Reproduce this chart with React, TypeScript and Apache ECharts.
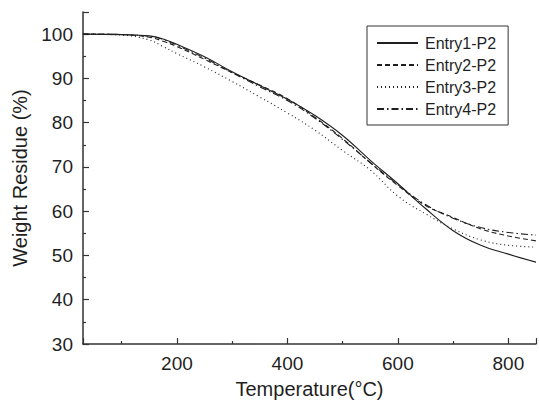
import React, { useEffect, useRef } from "react";
import * as echarts from "echarts";

const temps = [30, 100, 150, 175, 200, 250, 300, 350, 400, 450, 500, 550, 600, 650, 700, 750, 800, 850];
const entry1 = [100, 99.9, 99.6, 98.9, 97.7, 94.9, 91.5, 88.4, 85.3, 81.6, 77.1, 71.5, 66.2, 60.6, 55.6, 52.3, 50.3, 48.5];
const entry2 = [100, 99.9, 99.3, 98.4, 97.2, 94.3, 91.3, 88.5, 85.4, 81.2, 76.4, 70.9, 65.8, 61.3, 58.6, 56.0, 54.4, 53.3];
const entry3 = [100, 99.8, 98.7, 97.2, 95.6, 92.6, 89.3, 85.8, 82.2, 78.3, 73.7, 69.3, 63.4, 59.4, 56.0, 53.5, 52.3, 51.9];
const entry4 = [100, 99.9, 99.5, 98.8, 97.5, 94.6, 91.3, 88.1, 85.0, 81.0, 76.2, 71.0, 66.0, 61.5, 58.4, 56.3, 55.2, 54.6];
const seriesNames = ["Entry1-P2", "Entry2-P2", "Entry3-P2", "Entry4-P2"];
const dashes: any[] = ["solid", [5, 3], [1, 3], [7, 3, 1.5, 3]];

const font = "'Liberation Sans', Arial, sans-serif";
const ink = "#1f1f1f";

export default function App() {
  const ref = useRef<HTMLDivElement>(null);
  useEffect(() => {
    if (!ref.current) return;
    const chart = echarts.init(ref.current, undefined, { renderer: "svg" });
    const all = [entry1, entry2, entry3, entry4];
    chart.setOption({
      animation: false,
      backgroundColor: "#ffffff",
      textStyle: { fontFamily: font, color: ink },
      grid: { left: 83, right: 3, top: 12, bottom: 60, containLabel: false, outerBoundsMode: "none" },
      legend: {
        orient: "vertical",
        left: 367,
        top: 26,
        padding: [9, 12, 8, 9],
        itemWidth: 41,
        itemHeight: 16,
        itemGap: 6,
        borderColor: "#333",
        borderWidth: 1,
        itemStyle: { opacity: 0 },
        textStyle: { fontSize: 16, fontFamily: font, color: ink, padding: [0, 0, 0, 2] },
        data: seriesNames,
      },
      xAxis: {
        type: "value",
        min: 30,
        max: 850,
        name: "Temperature(°C)",
        nameLocation: "middle",
        nameGap: 35,
        nameTextStyle: { fontSize: 20, fontFamily: font, color: ink },
        axisLine: { show: true, lineStyle: { color: "#333", width: 1.5 } },
        axisTick: { show: true, inside: true, length: 6, lineStyle: { color: "#333", width: 1.2 } },
        minorTick: { show: true, splitNumber: 2, length: 3, lineStyle: { color: "#333", width: 1.2 } },
        axisLabel: { fontSize: 19, color: ink, margin: 10, showMinLabel: false, showMaxLabel: false, fontFamily: font },
        splitLine: { show: false },
      },
      yAxis: {
        type: "value",
        min: 30,
        max: 105,
        interval: 10,
        name: "Weight Residue (%)",
        nameLocation: "middle",
        nameGap: 52,
        nameTextStyle: { fontSize: 20, fontFamily: font, color: ink },
        axisLine: { show: true, lineStyle: { color: "#333", width: 1.5 } },
        axisTick: { show: true, inside: true, length: 6, lineStyle: { color: "#333", width: 1.2 } },
        minorTick: { show: true, splitNumber: 2, length: 3, lineStyle: { color: "#333", width: 1.2 } },
        axisLabel: {
          fontSize: 19,
          color: ink,
          margin: 10,
          fontFamily: font,
          formatter: (v: number) => (v > 100 ? "" : String(v)),
        },
        splitLine: { show: false },
      },
      series: all.map((vals, i) => ({
        name: seriesNames[i],
        type: "line",
        symbol: "none",
        smooth: 0.4,
        data: temps.map((t, j) => [t, vals[j]]),
        lineStyle: { color: ink, width: 1.1, type: dashes[i] },
        itemStyle: { color: ink },
      })),
    });
    return () => chart.dispose();
  }, []);
  return (
    <div
      ref={ref}
      style={{ position: "absolute", left: 0, top: 0, width: 539, height: 404 }}
    />
  );
}
